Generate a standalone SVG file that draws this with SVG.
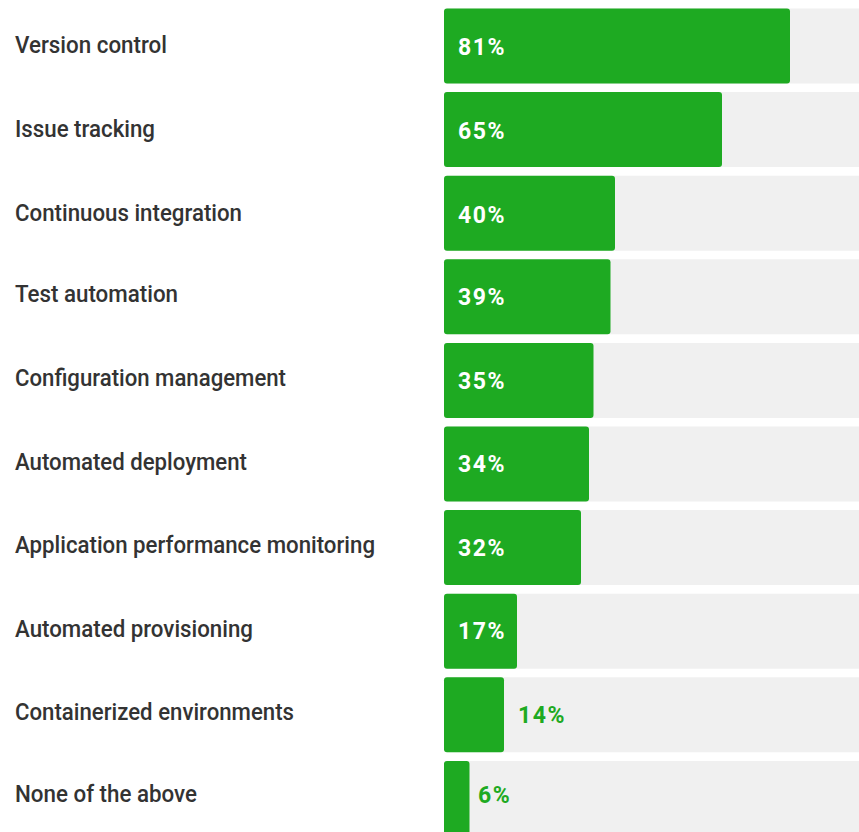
<svg xmlns="http://www.w3.org/2000/svg" width="859" height="832" viewBox="0 0 859 832">
<style>
.lbl{font-family:Roboto,"Liberation Sans",sans-serif;font-size:23.5px;font-weight:500;fill:#333333;}
.bg{fill:#f0f0f0;}
.bar{fill:#1eaa22;}
.pin{font-family:Roboto,"Liberation Sans",sans-serif;font-size:23px;font-weight:bold;letter-spacing:1.5px;fill:#ffffff;}
.pout{font-family:Roboto,"Liberation Sans",sans-serif;font-size:23px;font-weight:bold;letter-spacing:1.5px;fill:#1eaa22;}
</style>
<rect width="859" height="832" fill="#ffffff"/>
<g id="row1"><rect class="bg" x="444" y="8.5" width="430" height="75" rx="3"/><rect class="bar" x="444" y="8.5" width="346" height="75" rx="3"/><text class="lbl" x="15" y="52.5" textLength="152" lengthAdjust="spacingAndGlyphs">Version control</text><text class="pin" x="458" y="54.5">81%</text></g>
<g id="row2"><rect class="bg" x="444" y="92.1" width="430" height="75" rx="3"/><rect class="bar" x="444" y="92.1" width="278" height="75" rx="3"/><text class="lbl" x="15" y="136.5" textLength="140" lengthAdjust="spacingAndGlyphs">Issue tracking</text><text class="pin" x="458" y="138.5">65%</text></g>
<g id="row3"><rect class="bg" x="444" y="175.7" width="430" height="75" rx="3"/><rect class="bar" x="444" y="175.7" width="171" height="75" rx="3"/><text class="lbl" x="15" y="220.5" textLength="227" lengthAdjust="spacingAndGlyphs">Continuous integration</text><text class="pin" x="458" y="222.8">40%</text></g>
<g id="row4"><rect class="bg" x="444" y="259.3" width="430" height="75" rx="3"/><rect class="bar" x="444" y="259.3" width="166.5" height="75" rx="3"/><text class="lbl" x="15" y="301.5" textLength="163" lengthAdjust="spacingAndGlyphs">Test automation</text><text class="pin" x="458" y="304.5">39%</text></g>
<g id="row5"><rect class="bg" x="444" y="342.9" width="430" height="75" rx="3"/><rect class="bar" x="444" y="342.9" width="149.5" height="75" rx="3"/><text class="lbl" x="15" y="385.5" textLength="271" lengthAdjust="spacingAndGlyphs">Configuration management</text><text class="pin" x="458" y="388.5">35%</text></g>
<g id="row6"><rect class="bg" x="444" y="426.5" width="430" height="75" rx="3"/><rect class="bar" x="444" y="426.5" width="145" height="75" rx="3"/><text class="lbl" x="15" y="469.5" textLength="232" lengthAdjust="spacingAndGlyphs">Automated deployment</text><text class="pin" x="458" y="471.5">34%</text></g>
<g id="row7"><rect class="bg" x="444" y="510.1" width="430" height="75" rx="3"/><rect class="bar" x="444" y="510.1" width="137" height="75" rx="3"/><text class="lbl" x="15" y="553" textLength="360" lengthAdjust="spacingAndGlyphs">Application performance monitoring</text><text class="pin" x="458" y="555.5">32%</text></g>
<g id="row8"><rect class="bg" x="444" y="593.7" width="430" height="75" rx="3"/><rect class="bar" x="444" y="593.7" width="73" height="75" rx="3"/><text class="lbl" x="15" y="636.5" textLength="238" lengthAdjust="spacingAndGlyphs">Automated provisioning</text><text class="pin" x="458" y="639.3">17%</text></g>
<g id="row9"><rect class="bg" x="444" y="677.3" width="430" height="75" rx="3"/><rect class="bar" x="444" y="677.3" width="60" height="75" rx="3"/><text class="lbl" x="15" y="719.5" textLength="279" lengthAdjust="spacingAndGlyphs">Containerized environments</text><text class="pout" x="518" y="722.7">14%</text></g>
<g id="row10"><rect class="bg" x="444" y="760.9" width="430" height="75" rx="3"/><rect class="bar" x="444" y="760.9" width="25.5" height="75" rx="3"/><text class="lbl" x="15" y="801.5" textLength="182" lengthAdjust="spacingAndGlyphs">None of the above</text><text class="pout" x="478" y="802.7">6%</text></g>
</svg>
